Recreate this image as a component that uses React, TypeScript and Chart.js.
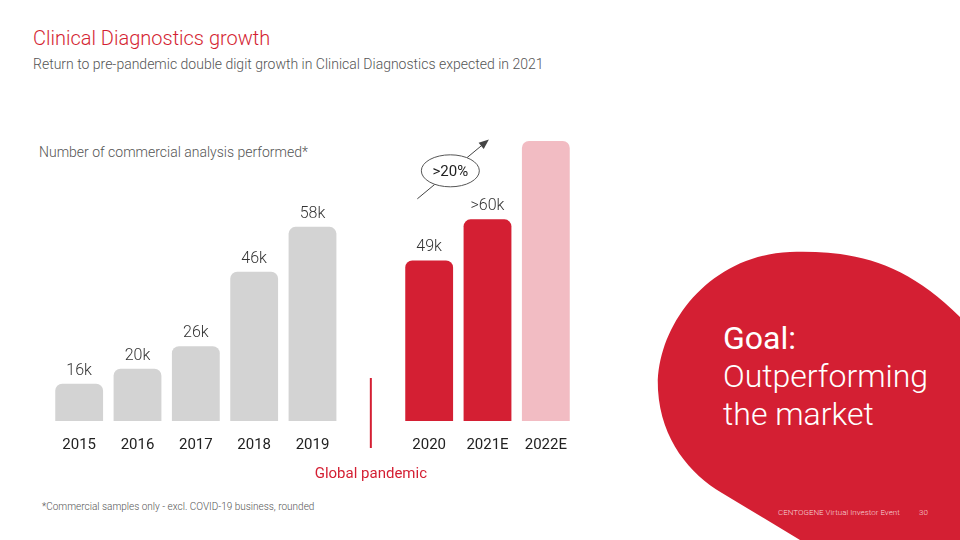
import React, { useEffect, useRef } from "react";
import { Chart, registerables } from "chart.js";

Chart.register(...registerables);

// ---- data ----
const categories = ["2015", "2016", "2017", "2018", "2019", "", "2020", "2021E", "2022E"];
const values: (number | null)[] = [16, 20, 26, 46, 58, null, 49, 60, 81];
const valueLabels = ["16k", "20k", "26k", "46k", "58k", "", "49k", ">60k", ""];
const barColors = [
  "#d3d3d3", "#d3d3d3", "#d3d3d3", "#d3d3d3", "#d3d3d3",
  "rgba(0,0,0,0)",
  "#d41f33", "#d41f33", "#f2bcc3",
];
const growthLabel = ">20%";
const pandemicLabel = "Global pandemic";
const separatorIndex = 5;

const RED = "#d41f33";
const FONT = "Roboto, 'Noto Sans', sans-serif";

const overlayPlugin = {
  id: "overlay",
  afterDatasetsDraw(chart: any) {
    const ctx = chart.ctx;
    const meta = chart.getDatasetMeta(0);
    const x = chart.scales.x;
    const y = chart.scales.y;
    const bottom = chart.chartArea.bottom;
    ctx.save();
    // value labels
    ctx.font = `300 16px ${FONT}`;
    ctx.fillStyle = "#333";
    ctx.textAlign = "center";
    ctx.textBaseline = "bottom";
    meta.data.forEach((el: any, i: number) => {
      if (!valueLabels[i]) return;
      ctx.fillText(valueLabels[i], el.x, el.y - 5);
    });
    // separator
    const sx = x.getPixelForValue(separatorIndex);
    ctx.strokeStyle = RED;
    ctx.lineWidth = 2;
    ctx.beginPath();
    ctx.moveTo(sx, bottom - 43);
    ctx.lineTo(sx, bottom + 27);
    ctx.stroke();
    ctx.fillStyle = RED;
    ctx.font = `400 15px ${FONT}`;
    ctx.textBaseline = "middle";
    ctx.fillText(pandemicLabel, sx, bottom + 53);

    // growth annotation
    const x20 = meta.data[6].x;
    const x21 = meta.data[7].x;
    const cx = (x20 + x21) / 2 - 8;
    const cy = y.getPixelForValue(73);
    const x1 = cx - 33, y1 = cy + 28, x2 = cx + 37, y2 = cy - 30;
    ctx.strokeStyle = "#444";
    ctx.lineWidth = 1;
    ctx.beginPath();
    ctx.moveTo(x1, y1);
    ctx.lineTo(x2, y2);
    ctx.stroke();
    const ang = Math.atan2(y2 - y1, x2 - x1);
    ctx.fillStyle = "#444";
    ctx.beginPath();
    ctx.moveTo(x2 + 2 * Math.cos(ang), y2 + 2 * Math.sin(ang));
    ctx.lineTo(x2 - 8 * Math.cos(ang) + 4 * Math.sin(ang), y2 - 8 * Math.sin(ang) - 4 * Math.cos(ang));
    ctx.lineTo(x2 - 8 * Math.cos(ang) - 4 * Math.sin(ang), y2 - 8 * Math.sin(ang) + 4 * Math.cos(ang));
    ctx.closePath();
    ctx.fill();
    ctx.beginPath();
    ctx.ellipse(cx, cy, 29, 16, 0, 0, Math.PI * 2);
    ctx.fillStyle = "#fff";
    ctx.fill();
    ctx.strokeStyle = "#555";
    ctx.stroke();
    ctx.fillStyle = "#222";
    ctx.font = `400 15px ${FONT}`;
    ctx.textBaseline = "middle";
    ctx.fillText(growthLabel, cx, cy + 1);
    ctx.restore();
  },
};

export default function App() {
  const ref = useRef<HTMLCanvasElement | null>(null);
  useEffect(() => {
    if (!ref.current) return;
    const chart = new Chart(ref.current, {
      type: "bar",
      data: {
        labels: categories,
        datasets: [
          {
            data: values,
            backgroundColor: barColors,
            borderRadius: 7,
            borderSkipped: false,
            categoryPercentage: 1,
            barPercentage: 0.82,
          },
        ],
      },
      options: {
        animation: false,
        responsive: false,
        maintainAspectRatio: false,
        devicePixelRatio: 1,
        layout: { padding: { left: 50, right: 385, top: 70, bottom: 71 } },
        plugins: { legend: { display: false }, tooltip: { enabled: false } },
        scales: {
          x: {
            grid: { display: false, drawTicks: false },
            border: { display: false },
            ticks: { color: "#222", font: { family: FONT, size: 15 }, padding: 15, maxRotation: 0, autoSkip: false },
          },
          y: { display: false, min: 6, max: 100 },
        },
      },
      plugins: [overlayPlugin],
    });
    return () => chart.destroy();
  }, []);

  const abs = (s: React.CSSProperties): React.CSSProperties => ({ position: "absolute", whiteSpace: "nowrap", ...s });

  return (
    <div style={{ position: "fixed", left: 0, top: 0, width: 960, height: 540, background: "#fff", overflow: "hidden", fontFamily: FONT }}>
      <svg width={960} height={540} style={{ position: "absolute", left: 0, top: 0 }}>
        <path
          d="M 960 317 C 905 262, 855 250, 790 252 C 705 256, 655 330, 658 390 C 661 440, 690 474, 722 493 L 800 540 L 960 540 Z"
          fill={RED}
        />
      </svg>
      <div style={abs({ left: 33, top: 26, fontSize: 20, lineHeight: "24px", fontWeight: 300, color: RED })}>Clinical Diagnostics growth</div>
      <div style={abs({ left: 33, top: 55, fontSize: 14, lineHeight: "18px", fontWeight: 300, color: "#555" })}>
        Return to pre-pandemic double digit growth in Clinical Diagnostics expected in 2021
      </div>
      <div style={abs({ left: 39, top: 143, fontSize: 14, lineHeight: "18px", fontWeight: 300, color: "#555" })}>
        Number of commercial analysis performed*
      </div>
      <div style={abs({ left: 42, top: 499, fontSize: 10, lineHeight: "16px", fontWeight: 300, color: "#555" })}>
        *Commercial samples only - excl. COVID-19 business, rounded
      </div>
      <div style={abs({ left: 723, top: 319, fontSize: 32, lineHeight: "38px", fontWeight: 400, color: "#fff" })}>Goal:</div>
      <div style={abs({ left: 723, top: 357, fontSize: 32, lineHeight: "38px", fontWeight: 300, color: "#fff" })}>Outperforming</div>
      <div style={abs({ left: 723, top: 395, fontSize: 32, lineHeight: "38px", fontWeight: 300, color: "#fff" })}>the market</div>
      <div style={abs({ left: 778, top: 507, fontSize: 8, lineHeight: "12px", fontWeight: 300, color: "#f6d5d9" })}>CENTOGENE Virtual Investor Event</div>
      <div style={abs({ left: 919, top: 507, fontSize: 8, lineHeight: "12px", fontWeight: 300, color: "#f6d5d9" })}>30</div>
      <canvas ref={ref} width={960} height={540} style={{ position: "absolute", left: 0, top: 0, width: 960, height: 540 }} />
    </div>
  );
}
